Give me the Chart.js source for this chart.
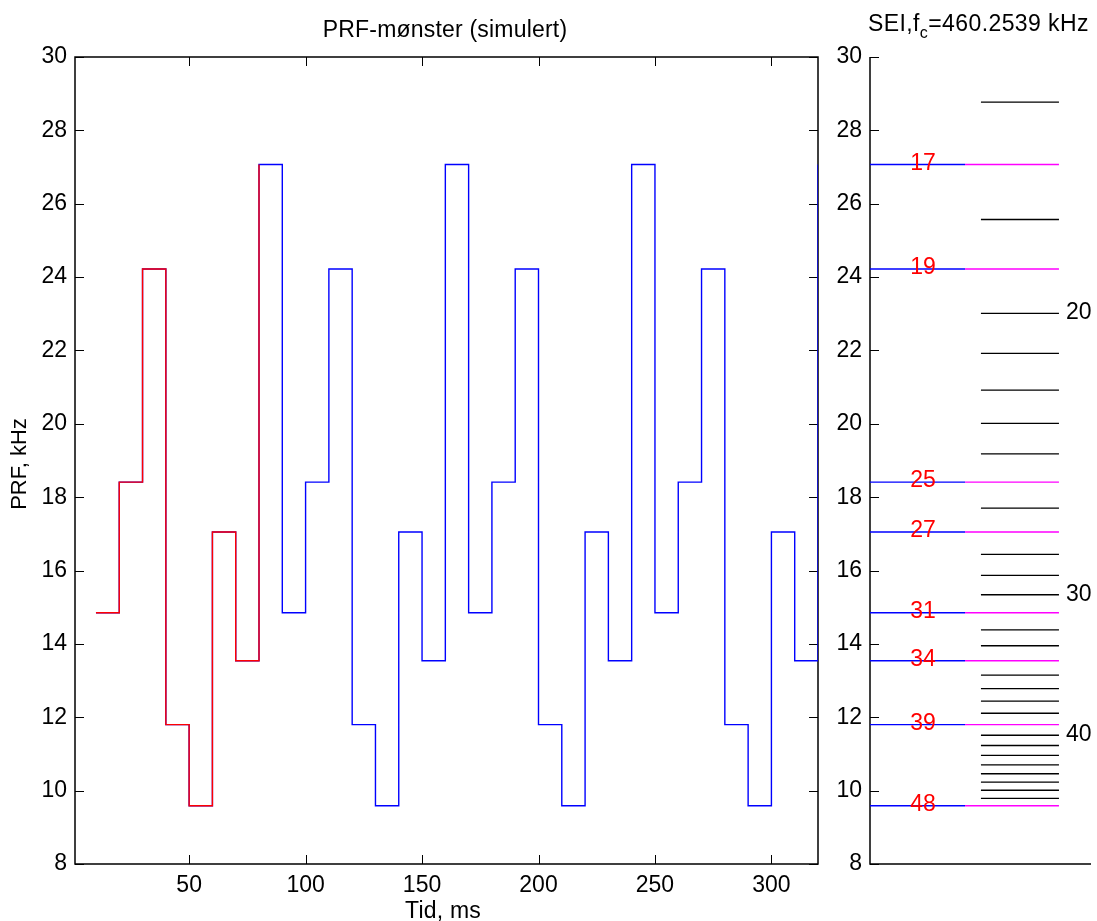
<!DOCTYPE html>
<html>
<head>
<meta charset="utf-8">
<title>PRF-mønster (simulert)</title>
<script src="https://cdn.jsdelivr.net/npm/chart.js"></script>
<style>
  body { margin: 0; background: #fff; }
  #wrap { position: relative; width: 1097px; height: 921px; overflow: hidden; }
  canvas { position: absolute; top: 0; }
  #main { left: 0; }
  #side { left: 830px; }
</style>
</head>
<body>
<div id="wrap">
  <canvas id="main" width="830" height="921"></canvas>
  <canvas id="side" width="267" height="921"></canvas>
</div>
<script>
// pulse train: each PRF holds for 10 ms starting at the given time
const timeMs = [10, 20, 30, 40, 50, 60, 70, 80, 90, 100, 110, 120, 130, 140, 150, 160,
                170, 180, 190, 200, 210, 220, 230, 240, 250, 260, 270, 280, 290, 300, 310, 320];
const prfKHz = [14.85, 18.41, 24.22, 11.80, 9.59, 17.05, 13.54, 27.07,
                14.85, 18.41, 24.22, 11.80, 9.59, 17.05, 13.54, 27.07,
                14.85, 18.41, 24.22, 11.80, 9.59, 17.05, 13.54, 27.07,
                14.85, 18.41, 24.22, 11.80, 9.59, 17.05, 13.54, 27.07];
// first cycle is highlighted in red
const firstCycleMs = [10, 20, 30, 40, 50, 60, 70, 80];
const firstCyclePrf = [14.85, 18.41, 24.22, 11.80, 9.59, 17.05, 13.54, 27.07];

// right panel: PRFs in use and the other divisors of fc
const usedN = ['17', '19', '25', '27', '31', '34', '39', '48'];
const usedPrf = [27.07, 24.22, 18.41, 17.05, 14.85, 13.54, 11.80, 9.59];
const otherPrf = [28.77, 25.57, 23.01, 21.92, 20.92, 20.01, 19.18, 17.70, 16.44, 15.87, 15.34,
                  14.38, 13.95, 13.15, 12.78, 12.44, 12.11, 11.51, 11.23, 10.96, 10.70, 10.46,
                  10.23, 10.01, 9.79];
const markN = ['20', '30', '40'];
const markPrf = [23.01, 15.34, 11.51];

const xTicks = [50, 100, 150, 200, 250, 300];
const yTicks = [8, 10, 12, 14, 16, 18, 20, 22, 24, 26, 28, 30];

const FONT = '"Liberation Sans", Arial, sans-serif';
const tickFont = { family: FONT, size: 23 };

function pts(xs, ys) { return xs.map((x, i) => ({ x: x, y: ys[i] })); }
function segs(vals, x0, x1) {
  const out = [];
  vals.forEach(v => { out.push({ x: x0, y: v }, { x: x1, y: v }, { x: x1, y: null }); });
  return out;
}

const frame = {
  id: 'frame',
  beforeDatasetsDraw(chart, args, opts) {
    const { ctx, chartArea: a, scales } = chart;
    ctx.save();
    ctx.strokeStyle = '#000';
    ctx.lineWidth = 1.5;
    ctx.beginPath();
    if (opts.box) {
      ctx.rect(a.left, a.top, a.right - a.left, a.bottom - a.top);
    } else {
      ctx.moveTo(a.left, a.top);
      ctx.lineTo(a.left, a.bottom);
      ctx.lineTo(a.right, a.bottom);
    }
    ctx.stroke();
    ctx.lineWidth = 1;
    ctx.beginPath();
    scales.y.ticks.forEach(t => {
      const py = Math.round(scales.y.getPixelForValue(t.value)) + 0.5;
      ctx.moveTo(a.left, py); ctx.lineTo(a.left + 9, py);
      if (opts.box) { ctx.moveTo(a.right, py); ctx.lineTo(a.right - 9, py); }
    });
    if (opts.box) {
      scales.x.ticks.forEach(t => {
        const px = Math.round(scales.x.getPixelForValue(t.value)) + 0.5;
        ctx.moveTo(px, a.bottom); ctx.lineTo(px, a.bottom - 9);
        ctx.moveTo(px, a.top); ctx.lineTo(px, a.top + 9);
      });
    }
    ctx.stroke();
    ctx.restore();
  }
};

const yScale = (w) => ({
  min: 8, max: 30,
  afterBuildTicks: s => { s.ticks = yTicks.map(v => ({ value: v })); },
  afterFit: s => { s.width = w; },
  grid: { display: false, drawTicks: false },
  border: { display: false },
  ticks: { color: '#000', font: tickFont, padding: 8 }
});

const mainText = {
  id: 'mainText',
  afterDraw(chart) {
    const ctx = chart.ctx;
    ctx.save();
    ctx.fillStyle = '#000';
    ctx.font = '23px ' + FONT;
    ctx.letterSpacing = '0.2px';
    ctx.textAlign = 'center';
    ctx.textBaseline = 'alphabetic';
    ctx.fillText('PRF-mønster (simulert)', 445, 37);
    ctx.fillText('Tid, ms', 443, 918);
    ctx.font = '22px ' + FONT;
    ctx.letterSpacing = '0px';
    ctx.translate(26, 464);
    ctx.rotate(-Math.PI / 2);
    ctx.fillText('PRF, kHz', 0, 0);
    ctx.restore();
  }
};

new Chart(document.getElementById('main'), {
  type: 'line',
  data: {
    datasets: [
      { data: pts(firstCycleMs, firstCyclePrf), borderColor: '#ff0000', borderWidth: 1.4, stepped: 'before', pointRadius: 0 },
      { data: pts(timeMs, prfKHz), borderColor: '#0000ff', borderWidth: 1.4, stepped: 'before', pointRadius: 0 }
    ]
  },
  options: {
    responsive: false,
    animation: false,
    layout: { padding: { left: 0, top: 57, right: 12, bottom: 0 } },
    plugins: { legend: { display: false }, tooltip: { enabled: false }, frame: { box: true } },
    scales: {
      x: {
        type: 'linear', min: 1, max: 320,
        afterBuildTicks: s => { s.ticks = xTicks.map(v => ({ value: v })); },
        afterFit: s => { s.height = 57; },
        grid: { display: false, drawTicks: false },
        border: { display: false },
        ticks: { color: '#000', font: tickFont, padding: 8, maxRotation: 0 }
      },
      y: yScale(75)
    }
  },
  plugins: [frame, mainText]
});

const BLUE_END = 0.43, LINE_END = 0.855, BLACK_START = 0.502;

const sideText = {
  id: 'sideText',
  afterDraw(chart) {
    const { ctx, scales } = chart;
    ctx.save();
    ctx.fillStyle = '#000';
    ctx.letterSpacing = '0.4px';
    ctx.textBaseline = 'alphabetic';
    ctx.textAlign = 'left';
    let x = 38;
    ctx.font = '23px ' + FONT;
    ctx.fillText('SEI,f', x, 31);
    x += ctx.measureText('SEI,f').width;
    ctx.font = '16px ' + FONT;
    ctx.fillText('c', x, 38);
    x += ctx.measureText('c').width;
    ctx.font = '23px ' + FONT;
    ctx.fillText('=460.2539 kHz', x, 31);

    ctx.letterSpacing = '0px';
    ctx.textBaseline = 'middle';
    ctx.textAlign = 'center';
    ctx.fillStyle = '#ff0000';
    usedPrf.forEach((v, i) => {
      ctx.fillText(usedN[i], scales.x.getPixelForValue(0.24), scales.y.getPixelForValue(v) - 1);
    });
    ctx.textAlign = 'left';
    ctx.fillStyle = '#000';
    markPrf.forEach((v, i) => {
      ctx.fillText(markN[i], scales.x.getPixelForValue(0.887), scales.y.getPixelForValue(v) - 0.5);
    });
    ctx.restore();
  }
};

new Chart(document.getElementById('side'), {
  type: 'line',
  data: {
    datasets: [
      { data: segs(usedPrf, 0, BLUE_END), borderColor: '#0000ff', borderWidth: 1.4, pointRadius: 0, spanGaps: false },
      { data: segs(usedPrf, BLUE_END, LINE_END), borderColor: '#ff00ff', borderWidth: 1.4, pointRadius: 0, spanGaps: false },
      { data: segs(otherPrf, BLACK_START, LINE_END), borderColor: '#000', borderWidth: 1.3, pointRadius: 0, spanGaps: false }
    ]
  },
  options: {
    responsive: false,
    animation: false,
    layout: { padding: { left: 0, top: 57, right: 6, bottom: 0 } },
    plugins: { legend: { display: false }, tooltip: { enabled: false }, frame: { box: false } },
    scales: {
      x: {
        type: 'linear', min: 0, max: 1,
        afterFit: s => { s.height = 57; },
        grid: { display: false, drawTicks: false },
        border: { display: false },
        ticks: { display: false }
      },
      y: yScale(40)
    }
  },
  plugins: [frame, sideText]
});
</script>
</body>
</html>
